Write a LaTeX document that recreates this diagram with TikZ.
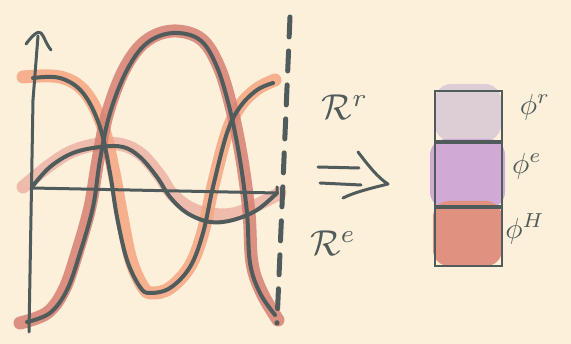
\documentclass[tikz,border=0pt]{standalone}
\usetikzlibrary{positioning}

\definecolor{paper}{RGB}{253,240,218}
\definecolor{ink}{RGB}{80,92,92}
\definecolor{glowpink}{RGB}{236,178,166}
\definecolor{gloworange}{RGB}{245,165,128}
\definecolor{glowred}{RGB}{214,128,114}
\definecolor{cellr}{RGB}{221,206,214}
\definecolor{celle}{RGB}{208,170,212}
\definecolor{cellh}{RGB}{224,145,128}

\begin{document}
\begin{tikzpicture}[
  x=1pt, y=-1pt,
  inkline/.style={draw=ink, line width=4pt, line cap=round, line join=round},
  glow/.style={line width=13pt, line cap=round, line join=round, opacity=0.85},
  cell/.style={draw=ink, line width=2pt, minimum width=67pt, inner sep=0pt},
  blob/.style={rounded corners=16pt},
  sym/.style={text=ink, scale=3.6},
  greek/.style={text=ink, scale=2.9},
]

% === Paper ===
\fill[paper] (0,0) rectangle (571,344);
\useasboundingbox (0,0) rectangle (571,344);

% === Highlights ===
\draw[glow, glowpink] plot[smooth, tension=0.6] coordinates {
  (23,187) (50,165) (73,151) (100,144) (123,145) (142,155) (160,176)
  (172,194) (190,208) (210,214) (233,214) (257,205) (280,193)};
\draw[glow, gloworange] plot[smooth, tension=0.6] coordinates {
  (23,77) (60,77) (85,92) (103,127) (114,173) (122,217) (131,260)
  (143,287) (152,293) (170,288) (190,266) (203,232) (213,186)
  (227,133) (240,106) (257,89) (275,80)};
\draw[glow, glowred] plot[smooth, tension=0.6] coordinates {
  (20,323) (47,313) (64,290) (77,253) (90,207) (98,160) (108,112)
  (125,68) (146,41) (173,31) (201,39) (219,67) (232,110) (242,160)
  (249,213) (252,263) (262,293) (278,320)};

% === Curves ===
\draw[inkline] plot[smooth, tension=0.6] coordinates {
  (32,187) (50,167) (73,153) (100,147) (123,147) (140,157) (157,177)
  (170,197) (187,213) (210,222) (233,220) (257,210) (277,193)};
\draw[inkline] plot[smooth, tension=0.6] coordinates {
  (33,78) (60,78) (83,93) (100,127) (110,173) (117,217) (127,260)
  (140,287) (150,293) (170,288) (190,267) (203,233) (213,187)
  (227,133) (240,107) (257,90) (273,83)};
\draw[inkline] plot[smooth, tension=0.6] coordinates {
  (27,322) (50,313) (67,290) (80,253) (93,207) (100,160) (110,113)
  (127,70) (147,43) (173,33) (200,40) (217,67) (230,110) (240,160)
  (247,213) (250,263) (260,293) (275,315)};

% === Axes ===
\draw[inkline, line width=3pt] (29,332) -- (33,100) -- (38,36);
\draw[inkline, line width=3pt] (26,44) .. controls (32,36) and (38,30) .. (41,33)
  .. controls (44,36) and (46,44) .. (51,50);
\draw[inkline, line width=3pt] (32,188) -- (277,193) -- (277,187);
\draw[inkline, line width=5pt, dash pattern=on 20pt off 14pt] (290,17) -- (277,323);

% === Arrow ===
\draw[inkline, line width=3pt] (318,167) -- (359,168);
\draw[inkline, line width=3pt] (320,183) -- (361,185);
\draw[inkline, line width=3pt] (358,152) .. controls (368,165) and (378,178) .. (388,184)
  .. controls (372,188) and (355,192) .. (343,198);

% === Labels ===
\node[sym] (rr) at (345,107) {$\mathcal{R}^r$};
\node[sym] (re) at (333,243) {$\mathcal{R}^e$};

% === Embedding ===
\fill[blob, cellr] (435,84) rectangle (501,141);
\fill[blob, celle] (430,139) rectangle (505,208);
\fill[blob, cellh] (433,201) rectangle (502,266);
\node[cell, minimum height=50pt] (phr) at (468.5,116) {};
\node[cell, minimum height=63pt, below=0pt of phr] (phe) {};
\node[cell, minimum height=58pt, below=0pt of phe] (phh) {};

\node[greek] (lr) at (535,107) {$\phi^r$};
\node[greek] (le) at (527,166) {$\phi^e$};
\node[greek] (lh) at (525,229) {$\phi^H$};

\end{tikzpicture}
\end{document}
